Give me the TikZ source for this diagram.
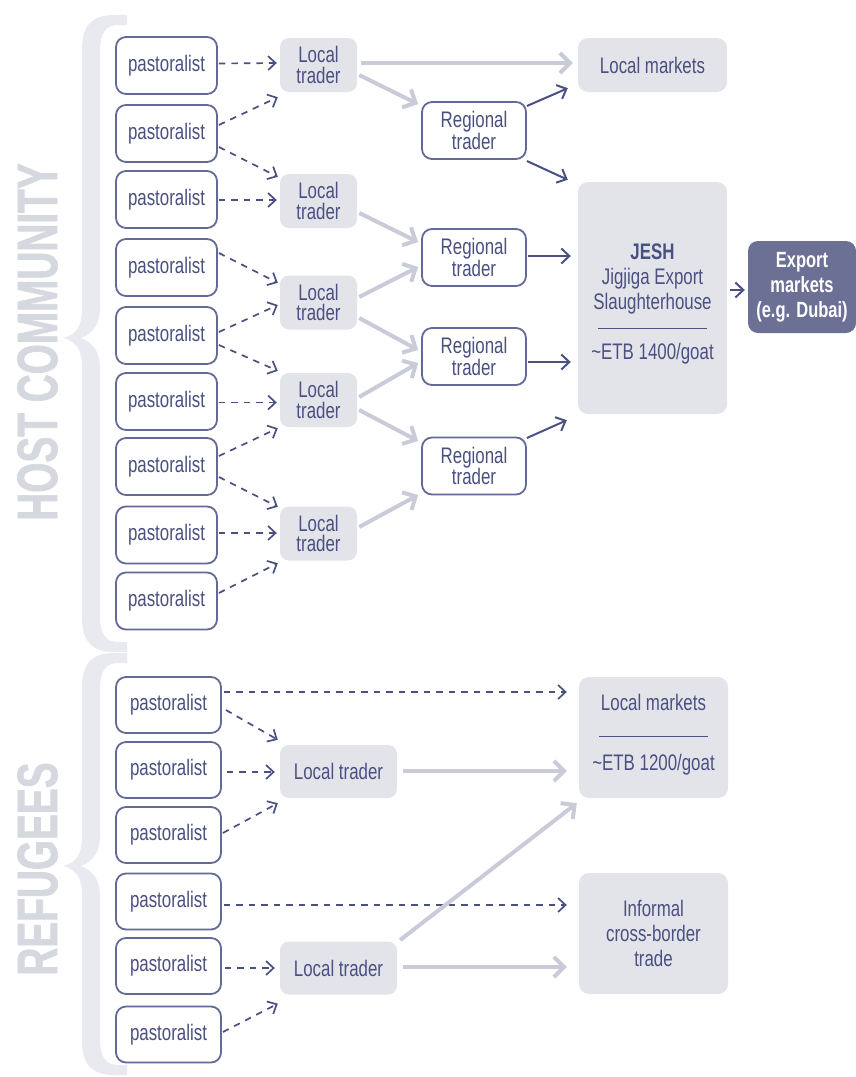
\documentclass[tikz,border=0pt]{standalone}
\usepackage{fontspec}
\setmainfont[FakeStretch=0.75]{Liberation Sans}
\newfontfamily\markfont[FakeStretch=0.68,FakeBold=1.2]{Liberation Sans}
\usetikzlibrary{arrows.meta,calc}
\definecolor{navy}{HTML}{4A5081}
\definecolor{bordercol}{HTML}{646A96}
\definecolor{lightfill}{HTML}{E3E4EA}
\definecolor{graycol}{HTML}{C9CBD8}
\definecolor{expfill}{HTML}{6B7094}
\definecolor{markcol}{HTML}{D6D8E0}
\definecolor{bracecol}{HTML}{E9EAEF}
\newcommand{\drawbrace}[3]{%
\fill[bracecol] (127,#1) -- (115,#1) .. controls (92,#1) and (82,#1+10) .. (82,#1+35)
 -- (82,#2-28) .. controls (82,#2-12) and (76,#2-3) .. (63,#2)
 .. controls (76,#2+3) and (82,#2+12) .. (82,#2+28)
 -- (82,#3-35) .. controls (82,#3-10) and (92,#3) .. (115,#3) -- (127,#3)
 -- (127,#3-10) -- (118,#3-10) .. controls (106,#3-10) and (100,#3-18) .. (100,#3-35)
 -- (100,#2+30) .. controls (100,#2+15) and (94,#2+5) .. (81,#2)
 .. controls (94,#2-5) and (100,#2-15) .. (100,#2-30)
 -- (100,#1+35) .. controls (100,#1+18) and (106,#1+10) .. (118,#1+10) -- (127,#1+10) -- cycle;}
\tikzset{
 past/.style={draw=bordercol, line width=1.8pt, rounded corners=10pt, fill=white,
   minimum width=101pt, minimum height=57pt, inner sep=0pt, text=navy,
   font=\fontsize{22.5}{21}\selectfont},
 rpast/.style={past, minimum width=105pt, minimum height=56pt},
 ltbox/.style={fill=lightfill, rounded corners=9pt, minimum width=77pt, minimum height=54pt,
   inner sep=0pt, align=center, text=navy, font=\fontsize{22.5}{20.5}\selectfont},
 rltbox/.style={ltbox, minimum width=117pt, minimum height=53pt},
 rtbox/.style={draw=bordercol, line width=1.8pt, fill=white, rounded corners=10pt,
   minimum width=104pt, minimum height=57pt, inner sep=0pt, align=center, text=navy,
   font=\fontsize{22.5}{21.5}\selectfont},
 bigbox/.style={fill=lightfill, rounded corners=10pt, minimum width=149pt, inner sep=0pt,
   align=center, text=navy, font=\fontsize{22.5}{25}\selectfont},
 txt/.style={align=center, text=navy, inner sep=0pt},
 expbox/.style={fill=expfill, rounded corners=10pt, minimum width=108pt, minimum height=92pt,
   inner sep=0pt, align=center, text=white, font=\bfseries\fontsize{22}{25}\selectfont},
 wmark/.style={rotate=90, text=markcol, inner sep=0pt,
   font=\markfont\bfseries\fontsize{57}{57}\selectfont},
 dasharr/.style={draw=navy, line width=1.7pt, dash pattern=on 6.5pt off 6pt,
   -{Straight Barb[length=7.5pt,width=14pt]}},
 darkarr/.style={draw=navy, line width=2pt, -{Straight Barb[length=8pt,width=15pt]}},
 grayarr/.style={draw=graycol, line width=4pt, -{Straight Barb[length=10pt,width=20pt]}}
}
\begin{document}
\begin{tikzpicture}[x=1pt,y=-1pt]
\useasboundingbox (0,0) rectangle (856,1077);
\drawbrace{15}{338}{652}
\drawbrace{653}{866}{1075}
\node[wmark] (host) at (37.5,342) {HOST COMMUNITY};
\node[wmark] (refu) at (37.5,869) {REFUGEES};
% host pastoralists
\node[past] (P1) at (166.5,65.5) {pastoralist};
\node[past] (P2) at (166.5,133.5) {pastoralist};
\node[past] (P3) at (166.5,199.5) {pastoralist};
\node[past] (P4) at (166.5,267.5) {pastoralist};
\node[past] (P5) at (166.5,335.5) {pastoralist};
\node[past] (P6) at (166.5,401.5) {pastoralist};
\node[past] (P7) at (166.5,466.5) {pastoralist};
\node[past] (P8) at (166.5,535) {pastoralist};
\node[past] (P9) at (166.5,601) {pastoralist};
% local traders
\node[ltbox] (LT1) at (318.5,65) {Local\\trader};
\node[ltbox] (LT2) at (318.5,201) {Local\\trader};
\node[ltbox] (LT3) at (318.5,302.5) {Local\\trader};
\node[ltbox] (LT4) at (318.5,400) {Local\\trader};
\node[ltbox] (LT5) at (318.5,533.5) {Local\\trader};
% regional traders
\node[rtbox] (RT1) at (474,130.5) {Regional\\trader};
\node[rtbox] (RT2) at (474,257.5) {Regional\\trader};
\node[rtbox] (RT3) at (474,356.5) {Regional\\trader};
\node[rtbox] (RT4) at (474,466) {Regional\\trader};
% markets
\node[bigbox, minimum height=54pt] (LM) at (652.5,65) {Local markets};
\node[bigbox, minimum height=232pt] (JESH) at (652.5,298) {};
\node[txt, font=\fontsize{22.5}{25}\selectfont] (JESHtxt) at (652.5,304)
  {\textbf{JESH}\\Jigjiga Export\\Slaughterhouse\\\rule[6pt]{109pt}{1pt}\\\textasciitilde ETB 1400/goat};
\node[expbox] (EXP) at (802,287) {Export\\markets\\(e.g. Dubai)};
% refugees
\node[rpast] (RP1) at (168.5,705) {pastoralist};
\node[rpast] (RP2) at (168.5,770) {pastoralist};
\node[rpast] (RP3) at (168.5,835) {pastoralist};
\node[rpast] (RP4) at (168.5,901.5) {pastoralist};
\node[rpast] (RP5) at (168.5,966) {pastoralist};
\node[rpast] (RP6) at (168.5,1034.5) {pastoralist};
\node[rltbox] (LTR1) at (338.5,771.5) {Local trader};
\node[rltbox] (LTR2) at (338.5,968) {Local trader};
\node[bigbox, minimum height=121pt] (LMR) at (653.5,737.5) {};
\node[txt, font=\fontsize{22.5}{30}\selectfont] (LMRtxt) at (653.5,735)
  {Local markets\\\rule[4pt]{109pt}{1pt}\\\textasciitilde ETB 1200/goat};
\node[bigbox, minimum height=121pt] (INF) at (653.5,933.5) {Informal\\cross-border\\trade};
% dashed host
\draw[dasharr] ($(P1.east)+(1,-2)$) -- ($(LT1.west)+(-3,-2)$);
\draw[dasharr] ($(P2.east)+(1,-8.5)$) -- ($(LT1.south west)+(-2,5)$);
\draw[dasharr] ($(P2.east)+(1,13.5)$) -- ($(LT2.north west)+(-2,3)$);
\draw[dasharr] ($(P3.east)+(1,0.5)$) -- ($(LT2.west)+(-3,-1)$);
\draw[dasharr] ($(P4.east)+(1,-14.5)$) -- ($(LT3.north west)+(-2,7.5)$);
\draw[dasharr] ($(P5.east)+(1,-3.5)$) -- ($(LT3.west)+(-2,2.5)$);
\draw[dasharr] ($(P5.east)+(1,9.5)$) -- ($(LT4.north west)+(-2,-2)$);
\draw[dasharr] ($(P6.east)+(1,1)$) -- ($(LT4.west)+(-3,2.5)$);
\draw[dasharr] ($(P7.east)+(1,-10.5)$) -- ($(LT4.south west)+(-2,1)$);
\draw[dasharr] ($(P7.east)+(1,10.5)$) -- ($(LT5.north west)+(-2,0.5)$);
\draw[dasharr] ($(P8.east)+(1,-2)$) -- ($(LT5.west)+(-3,-0.5)$);
\draw[dasharr] ($(P9.east)+(1,-8)$) -- ($(LT5.south west)+(-2,2.5)$);
% dashed refugees
\draw[dasharr] ($(RP1.east)+(2,-13)$) -- ($(LMR.west)+(-12,-45.5)$);
\draw[dasharr] ($(RP1.east)+(4,5)$) -- ($(LTR1.north west)+(-2,-5)$);
\draw[dasharr] ($(RP2.east)+(5,2)$) -- ($(LTR1.west)+(-5,0.5)$);
\draw[dasharr] ($(RP3.east)+(1,-2)$) -- ($(LTR1.south west)+(-2,5)$);
\draw[dasharr] ($(RP4.east)+(2,3.5)$) -- ($(INF.west)+(-12,-28.5)$);
\draw[dasharr] ($(RP5.east)+(3,2)$) -- ($(LTR2.west)+(-5,0)$);
\draw[dasharr] ($(RP6.east)+(1,-2.5)$) -- ($(LTR2.south west)+(-2,9)$);
% gray
\draw[grayarr] ($(LT1.east)+(4,-2)$) -- ($(LM.west)+(-5,-2)$);
\draw[grayarr] ($(LT1.east)+(2,10)$) -- ($(RT1.north west)+(-3,3)$);
\draw[grayarr] ($(LT2.east)+(2,12)$) -- ($(RT2.west)+(-3,-15.5)$);
\draw[grayarr] ($(LT3.east)+(2,-5.5)$) -- ($(RT2.west)+(-3,9.5)$);
\draw[grayarr] ($(LT3.east)+(2,15.5)$) -- ($(RT3.west)+(-3,-6.5)$);
\draw[grayarr] ($(LT4.east)+(2,-3)$) -- ($(RT3.west)+(-3,6.5)$);
\draw[grayarr] ($(LT4.east)+(2,10)$) -- ($(RT4.west)+(-3,-25)$);
\draw[grayarr] ($(LT5.east)+(2,-6.5)$) -- ($(RT4.west)+(-3,29)$);
\draw[grayarr] ($(LTR1.east)+(6,-0.5)$) -- ($(LMR.west)+(-12,33.5)$);
\draw[grayarr] ($(LTR2.east)+(3,-28)$) -- ($(LMR.south west)+(-2,5)$);
\draw[grayarr] ($(LTR2.east)+(6,-1)$) -- ($(INF.west)+(-12,33.5)$);
% dark
\draw[darkarr] ($(RT1.east)+(0,-24.5)$) -- ($(LM.south west)+(-10,-4)$);
\draw[darkarr] ($(RT1.east)+(0,30.5)$) -- ($(JESH.north west)+(-10,-2)$);
\draw[darkarr] ($(RT2.east)+(1,-1.5)$) -- ($(JESH.west)+(-7,-42)$);
\draw[darkarr] ($(RT3.east)+(1,5.5)$) -- ($(JESH.west)+(-7,64)$);
\draw[darkarr] ($(RT4.east)+(0,-28)$) -- ($(JESH.south west)+(-11,6)$);
\draw[darkarr] ($(JESH.east)+(3,-8)$) -- ($(EXP.west)+(-3,3)$);
\end{tikzpicture}
\end{document}
